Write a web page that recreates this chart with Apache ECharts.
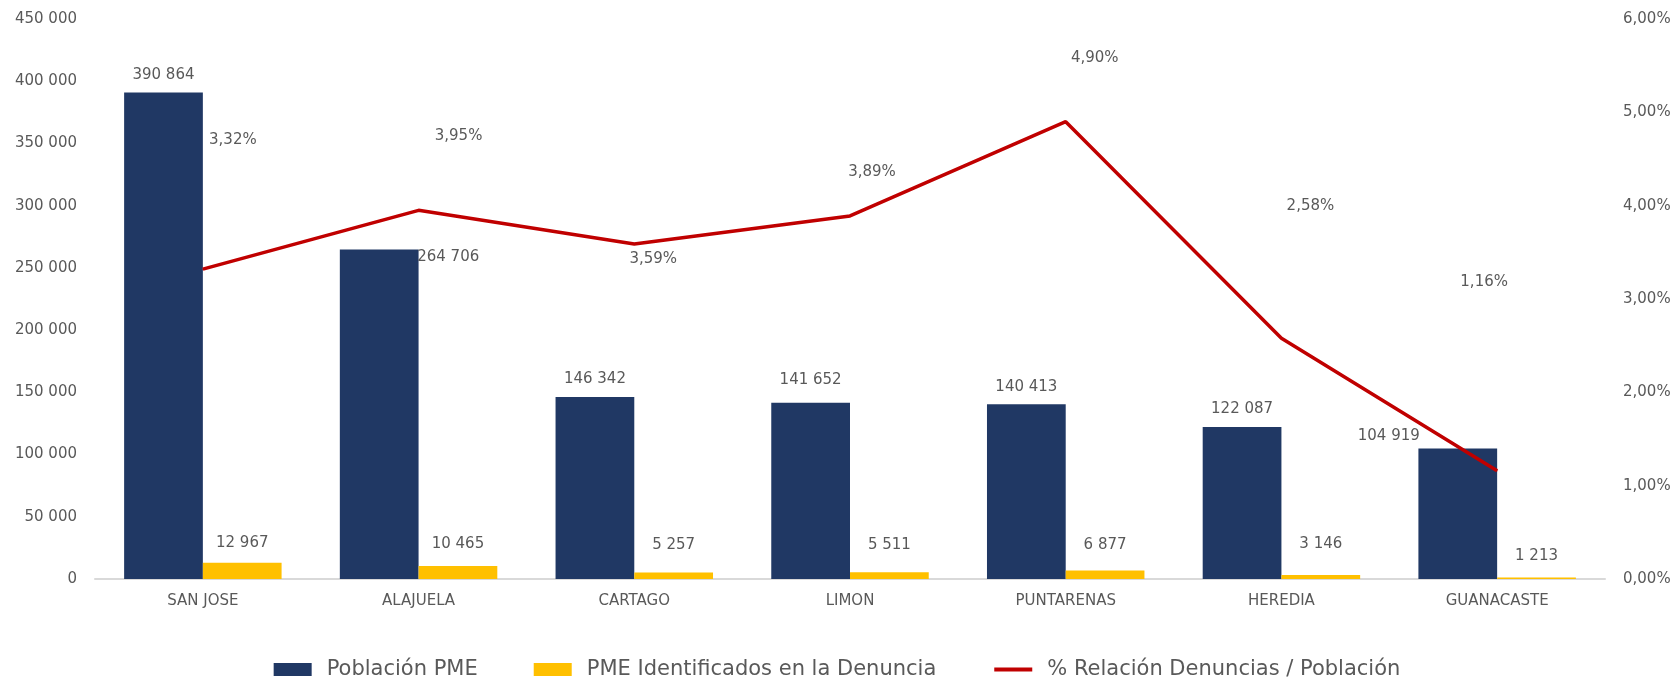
<!DOCTYPE html>
<html>
<head>
<meta charset="utf-8">
<title>Población PME</title>
<script src="https://cdn.jsdelivr.net/npm/echarts@6/dist/echarts.min.js"></script>
<style>
  html, body { margin: 0; padding: 0; background: #fff; }
  #chart { width: 1674px; height: 682px; }
</style>
</head>
<body>
<div id="chart"></div>
<script>
// datos
var provincias = ['SAN JOSE', 'ALAJUELA', 'CARTAGO', 'LIMON', 'PUNTARENAS', 'HEREDIA', 'GUANACASTE'];
var poblacionPME = [390864, 264706, 146342, 141652, 140413, 122087, 104919];
var pmeDenuncia = [12967, 10465, 5257, 5511, 6877, 3146, 1213];
var relacionPct = [3.32, 3.95, 3.59, 3.89, 4.90, 2.58, 1.16];

// desplazamiento de etiquetas (movidas a mano en el original)
var offPoblacion = [[0, 0], [69, 25], [0, 0], [0, -5], [0, 0], [0, 0], [-69, 5]];
var offDenuncia = [[0, -2], [0, -4], [0, -10], [0, -10], [0, -8], [0, -13], [0, -4]];
var offRelacion = [[30, -129], [40, -74], [19, 15], [22, -44], [29, -64], [29, -132], [-13, -189]];

var FONT = '"DejaVu Sans", sans-serif';
var GRIS = '#595959';

function miles(v) {
  return String(v).replace(/\B(?=(\d{3})+(?!\d))/g, ' ');
}
function pct(v) {
  return Number(v).toFixed(2).replace('.', ',') + '%';
}

function conOffset(valores, offs) {
  var out = [];
  for (var i = 0; i < valores.length; i++) {
    out.push({ value: valores[i], label: { offset: offs[i] } });
  }
  return out;
}

var option = {
  backgroundColor: '#fff',
  textStyle: { fontFamily: FONT },
  grid: { left: 95, right: 69, top: 19, bottom: 103 },
  legend: {
    top: 654,
    left: 'center',
    itemWidth: 38,
    itemHeight: 13,
    itemGap: 56,
    textStyle: { fontFamily: FONT, fontSize: 21, color: GRIS, padding: [0, 0, 0, 10] },
    data: [
      { name: 'Población PME', icon: 'rect' },
      { name: 'PME Identificados en la Denuncia', icon: 'rect' },
      { name: '% Relación Denuncias / Población', itemStyle: { opacity: 0 }, lineStyle: { width: 4 } }
    ]
  },
  xAxis: [{
    type: 'category',
    data: provincias,
    axisLine: { lineStyle: { color: '#D9D9D9', width: 2 } },
    axisTick: { show: false },
    axisLabel: { color: GRIS, fontSize: 15, margin: 15, fontFamily: FONT }
  }],
  yAxis: [{
    type: 'value',
    min: 0,
    max: 450000,
    interval: 50000,
    splitLine: { show: false },
    axisLine: { show: false },
    axisTick: { show: false },
    axisLabel: { color: GRIS, fontSize: 15, margin: 18, fontFamily: FONT, formatter: miles }
  }, {
    type: 'value',
    min: 0,
    max: 6,
    interval: 1,
    splitLine: { show: false },
    axisLine: { show: false },
    axisTick: { show: false },
    axisLabel: { color: GRIS, fontSize: 15, margin: 18, fontFamily: FONT, formatter: pct }
  }],
  series: [{
    name: 'Población PME',
    type: 'bar',
    data: conOffset(poblacionPME, offPoblacion),
    barGap: '0%',
    barCategoryGap: '27%',
    itemStyle: { color: '#203864' },
    label: {
      show: true, position: 'top', distance: 10,
      color: GRIS, fontSize: 15, fontFamily: FONT,
      formatter: function (p) { return miles(p.value); }
    }
  }, {
    name: 'PME Identificados en la Denuncia',
    type: 'bar',
    data: conOffset(pmeDenuncia, offDenuncia),
    itemStyle: { color: '#FFC000' },
    label: {
      show: true, position: 'top', distance: 10,
      color: GRIS, fontSize: 15, fontFamily: FONT,
      formatter: function (p) { return miles(p.value); }
    }
  }, {
    name: '% Relación Denuncias / Población',
    type: 'line',
    yAxisIndex: 1,
    data: conOffset(relacionPct, offRelacion),
    symbol: 'circle',
    symbolSize: 1,
    showSymbol: true,
    lineStyle: { color: '#C00000', width: 3.5 },
    itemStyle: { color: '#C00000' },
    label: {
      show: true, position: 'inside',
      color: GRIS, fontSize: 15, fontFamily: FONT,
      formatter: function (p) { return pct(p.value); }
    }
  }]
};

var myChart = echarts.init(document.getElementById('chart'));
myChart.setOption(option);
</script>
</body>
</html>
